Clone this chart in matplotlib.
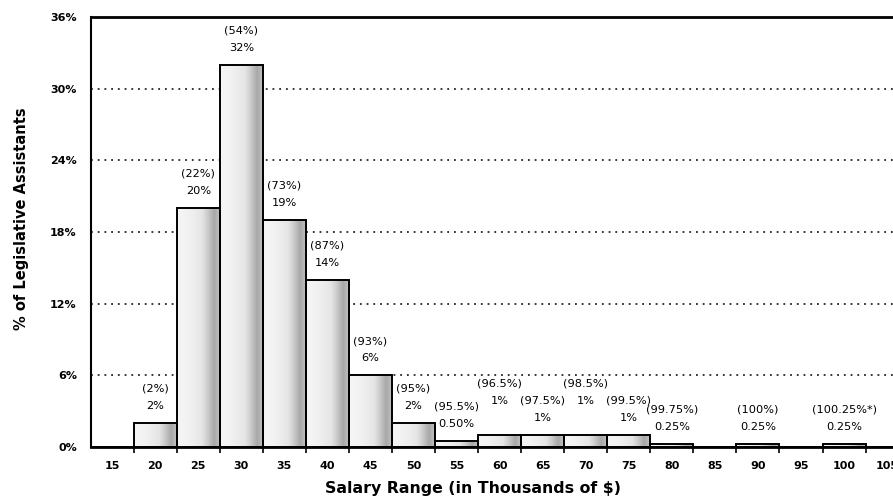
import matplotlib
matplotlib.use("Agg")
import matplotlib.pyplot as plt
import numpy as np
from matplotlib.colors import LinearSegmentedColormap

# Salary bins (thousands of $) and share of legislative assistants (%)
salary = [15, 20, 25, 30, 35, 40, 45, 50, 55, 60, 65, 70, 75, 80, 85, 90, 95, 100, 105]
share = [0, 2, 20, 32, 19, 14, 6, 2, 0.5, 1, 1, 1, 1, 0.25, 0, 0.25, 0, 0.25, 0]
value_labels = ["", "2%", "20%", "32%", "19%", "14%", "6%", "2%", "0.50%", "1%", "1%",
                "1%", "1%", "0.25%", "", "0.25%", "", "0.25%", ""]
cum_labels = ["", "(2%)", "(22%)", "(54%)", "(73%)", "(87%)", "(93%)", "(95%)", "(95.5%)",
              "(96.5%)", "(97.5%)", "(98.5%)", "(99.5%)", "(99.75%)", "", "(100%)", "",
              "(100.25%*)", ""]
y_ticks = [0, 6, 12, 18, 24, 30, 36]

# label stagger (in text lines) for the crowded small bars
stagger = [0, 0, 0, 0, 0, 0, 0, 0, 0, 1, 0, 1, 0, 0, 0, 0, 0, 0, 0]

plt.rcParams['font.family'] = ['DejaVu Sans']

fig = plt.figure(figsize=(8.93, 5.0), dpi=100)
ax = fig.add_axes([0.1015, 0.106, 0.916, 0.86])

width = 5
cmap = LinearSegmentedColormap.from_list("stipple", ["#f5f5f5", "#e4e4e4", "#a8a8a8", "#c4c4c4"])
ramp = np.linspace(0, 1, 120)
grad = np.where(ramp < 0.85, (ramp / 0.85) ** 1.8 * 0.67, 0.67 + (ramp - 0.85) / 0.15 * 0.33)
grad = grad.reshape(1, -1)

for x, h in zip(salary, share):
  bar = ax.bar(x, h, width=width, facecolor="none", edgecolor="black",
               linewidth=1.4, zorder=3)[0]
  if h > 0:
    im = ax.imshow(grad, extent=[x - width / 2, x + width / 2, 0, h], aspect="auto",
                   cmap=cmap, vmin=0, vmax=1, zorder=2, interpolation="bilinear")
    im.set_clip_path(bar)

# annotations: value and cumulative share above each bar
line = 12.3  # points
for x, h, v, c, s in zip(salary, share, value_labels, cum_labels, stagger):
  if not v:
    continue
  ax.annotate(v, (x, h), xytext=(0, line * (1 + s)), textcoords="offset points",
              ha="center", va="center", fontsize=8.2, zorder=5)
  ax.annotate(c, (x, h), xytext=(0, line * (2 + s)), textcoords="offset points",
              ha="center", va="center", fontsize=8.2, zorder=5)

ax.set_xlim(12.5, 107.5)
ax.set_ylim(0, 36)

# dotted gridlines
for y in y_ticks[1:-1]:
  ax.axhline(y, color="black", linestyle=(0, (1.2, 3.2)), linewidth=1.1, zorder=1)

ax.set_yticks(y_ticks)
ax.set_yticklabels([f"{t}%" for t in y_ticks], fontsize=8, fontweight="bold")
ax.tick_params(axis="y", length=0, pad=10)

ax.set_xticks(salary)
ax.set_xticklabels([str(s) for s in salary], fontsize=8, fontweight="bold")
ax.set_xticks(np.arange(17.5, 107.5, 5), minor=True)
ax.tick_params(axis="x", which="major", length=0, pad=10)
ax.tick_params(axis="x", which="minor", length=4, width=1.2, direction="out")

ax.spines["right"].set_visible(False)
ax.spines["top"].set_linewidth(2)
ax.spines["left"].set_linewidth(1.5)
ax.spines["bottom"].set_linewidth(2)

ax.set_xlabel("Salary Range (in Thousands of $)", fontsize=11.3, fontweight="bold",
              labelpad=7, x=0.467)
ax.set_ylabel("% of Legislative Assistants", fontsize=10.5, fontweight="bold", labelpad=15,
              y=0.53)

fig.savefig("out.png", dpi=100)
